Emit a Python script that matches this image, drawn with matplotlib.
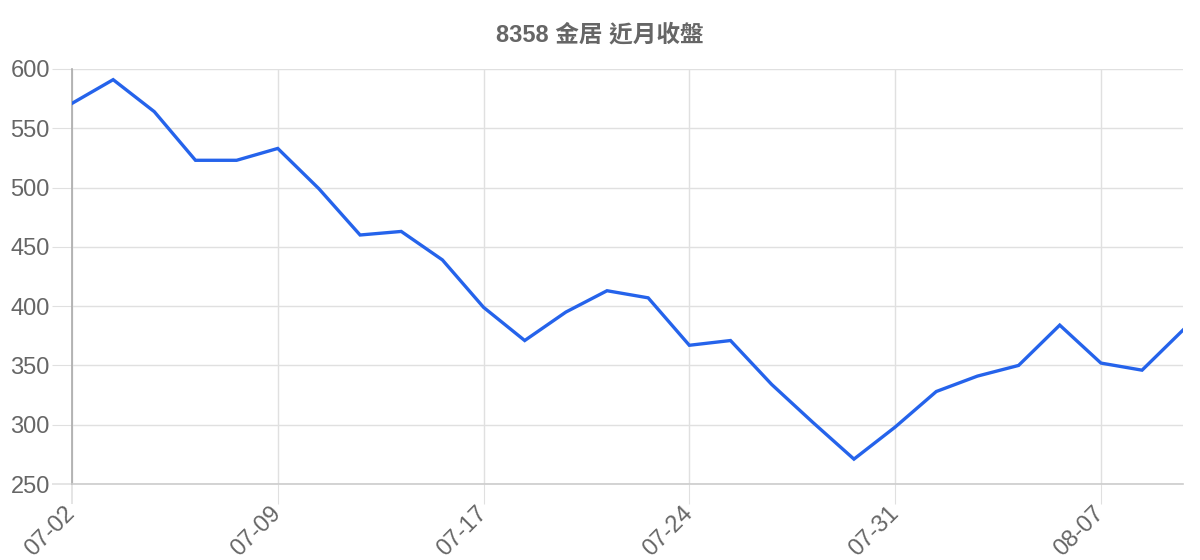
import matplotlib
matplotlib.use("Agg")
import matplotlib.pyplot as plt

dates = ['07-02', '07-03', '07-04', '07-05', '07-08', '07-09', '07-10', '07-11',
         '07-12', '07-15', '07-17', '07-18', '07-19', '07-22', '07-23', '07-24',
         '07-25', '07-26', '07-29', '07-30', '07-31', '08-01', '08-02', '08-05',
         '08-06', '08-07', '08-08', '08-09']
closes = [571, 591, 564, 523, 523, 533, 499, 460, 463, 439, 399, 371, 395, 413,
          407, 367, 371, 334, 302, 271, 298, 328, 341, 350, 384, 352, 346, 380]
title = '8358 金居 近月收盤'
y_ticks = [250, 300, 350, 400, 450, 500, 550, 600]

TXT = '#666666'
GRID = '#e0e0e0'

fig = plt.figure(figsize=(12, 5.6), dpi=100)
ax = fig.add_axes([0.06, 0.1357, 0.926, 0.7411])

x = list(range(len(dates)))
ax.plot(x, closes, color='#2563eb', linewidth=2.4, solid_joinstyle='miter', zorder=3)

ax.set_xlim(0, len(dates) - 1)
ax.set_ylim(250, 600)
xt = x[::5]
ax.set_xticks(xt)
ax.set_xticklabels([dates[i] for i in xt])
ax.set_yticks(y_ticks)
ax.set_yticklabels([str(v) for v in y_ticks])

for lab in ax.get_xticklabels():
    lab.set_rotation(45)
    lab.set_ha('right')
    lab.set_va('center')
    lab.set_rotation_mode('anchor')

ax.grid(True, color=GRID, linewidth=1.0)
ax.set_axisbelow(True)
ax.tick_params(axis='both', length=14.5, width=0.8, color=GRID,
               labelsize=17, labelcolor=TXT, pad=1.5)
ax.tick_params(axis='x', pad=4)
for lab in ax.get_xticklabels() + ax.get_yticklabels():
    lab.set_fontfamily('Liberation Sans')

for s in ['top', 'right']:
    ax.spines[s].set_visible(False)
ax.spines['left'].set_color('#aaaaaa')
ax.spines['left'].set_linewidth(1.2)
ax.spines['bottom'].set_color('#cccccc')
ax.spines['bottom'].set_linewidth(1.2)

# axis-coloured ticks where the axes meet
ax.xaxis.get_major_ticks()[0].tick1line.set_color('#aaaaaa')
ax.xaxis.get_major_ticks()[0].tick1line.set_markeredgewidth(1.2)
ax.yaxis.get_major_ticks()[0].tick1line.set_color('#cccccc')
ax.yaxis.get_major_ticks()[0].tick1line.set_markeredgewidth(1.2)

fig.text(0.5, 1 - 35 / 560, title, ha='center', va='center', fontsize=17,
         fontweight='bold', color=TXT,
         family=['Liberation Sans', 'Noto Sans CJK TC'])

fig.savefig('out.png', dpi=100, facecolor='white')
